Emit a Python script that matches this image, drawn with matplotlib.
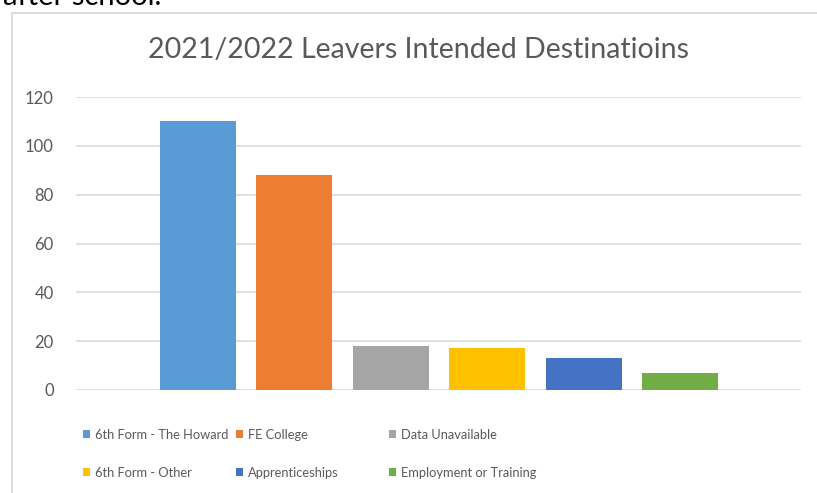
import matplotlib.pyplot as plt
from matplotlib.patches import Rectangle

# data
destinations = ["6th Form - The Howard", "FE College", "Data Unavailable",
                "6th Form - Other", "Apprenticeships", "Employment or Training"]
leavers = [110, 88, 18, 17, 13, 7]
colours = ["#5B9BD5", "#ED7D31", "#A5A5A5", "#FFC000", "#4472C4", "#70AD47"]
yticks = [0, 20, 40, 60, 80, 100, 120]

plt.rcParams['font.family'] = ['Lato', 'DejaVu Sans']
W, H = 817, 493
fig = plt.figure(figsize=(W / 100, H / 100), dpi=100)
ax = fig.add_axes([76 / W, (H - 390) / H, (801 - 76) / W, (390 - 97) / H])

# one bar per series, like the excel cluster
bars = []
for i, (name, val) in enumerate(zip(destinations, leavers)):
    b = ax.bar(i, val, width=0.79, color=colours[i], label=name, zorder=3)
    bars.append(b)

ax.set_xlim(-1.26, 6.25)
ax.set_ylim(0, 120)
ax.set_yticks(yticks)
ax.set_xticks([])
ax.yaxis.grid(True, color="#D9D9D9", lw=1.1, zorder=0)
ax.tick_params(axis="y", length=0, pad=16, labelsize=12, labelcolor="#595959")
for s in ax.spines.values():
    s.set_visible(False)

fig.text(418 / W, (H - 50) / H, "2021/2022 Leavers Intended Destinatioins",
         ha="center", va="center", fontsize=20.5, color="#595959")

# legend - excel style grid, every entry placed on its own
cols = [83, 236, 389]
rows = [435, 473]
for k in range(len(destinations)):
    x = cols[k % 3]
    y = rows[k // 3]
    fig.legend([bars[k]], [destinations[k]],
               loc="center left", bbox_to_anchor=(x / W, (H - y) / H),
               bbox_transform=fig.transFigure, frameon=False, borderpad=0,
               borderaxespad=0, handlelength=0.57, handleheight=0.57,
               handletextpad=0.36, fontsize=9.3, labelcolor="#595959")

# chart border and the cut off text above it
fig.add_artist(Rectangle((12 / W, -0.1), 1.2, (H - 13) / H + 0.1,
                         transform=fig.transFigure, fill=False,
                         edgecolor="#D9D9D9", lw=1.3))
fig.text(3 / W, 1 - 5 / H, "after school.", va="baseline", fontsize=21,
         color="black")

fig.savefig("out.png", dpi=100)
